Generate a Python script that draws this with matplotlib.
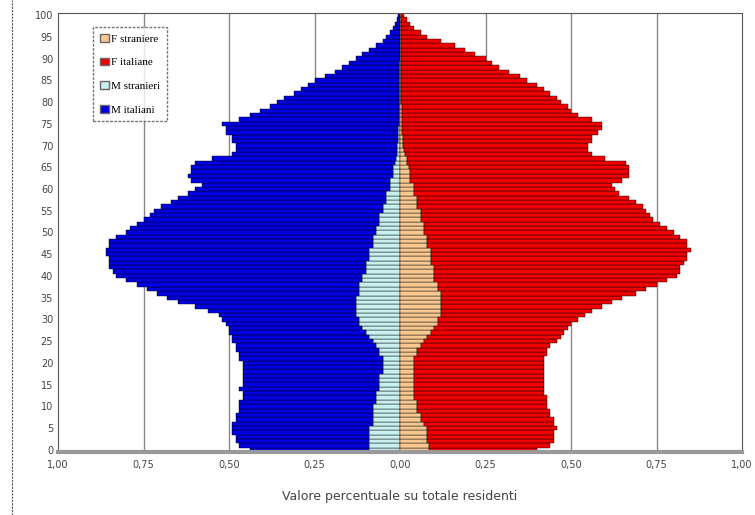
import numpy as np
import matplotlib
matplotlib.use('Agg')
import matplotlib.pyplot as plt
from matplotlib.patches import Patch

# eta' 0..100
eta = np.arange(101)

# maschi: totale (stranieri + italiani) e stranieri, % su totale residenti
m_totale = [.44,.47,.48,.48,.49,.49,.49,.48,.48,.47,
            .47,.47,.46,.46,.47,.46,.46,.46,.46,.46,
            .46,.47,.47,.48,.48,.49,.49,.50,.50,.51,
            .52,.53,.56,.60,.65,.68,.71,.74,.77,.80,
            .83,.84,.85,.85,.85,.86,.86,.85,.85,.83,
            .80,.79,.77,.75,.73,.72,.70,.67,.65,.62,
            .60,.58,.61,.62,.61,.61,.60,.55,.49,.48,
            .48,.49,.49,.51,.51,.52,.47,.44,.41,.38,
            .36,.34,.31,.29,.27,.25,.22,.19,.17,.15,
            .13,.11,.09,.07,.05,.04,.03,.02,.015,.01,
            .006]
m_stranieri = [.09,.09,.09,.09,.09,.09,.08,.08,.08,.08,
               .08,.07,.07,.07,.06,.06,.06,.06,.05,.05,
               .05,.05,.06,.06,.07,.08,.09,.10,.11,.12,
               .12,.13,.13,.13,.13,.13,.12,.12,.12,.11,
               .11,.10,.10,.10,.09,.09,.09,.08,.08,.08,
               .07,.07,.06,.06,.06,.05,.05,.04,.04,.04,
               .03,.03,.03,.02,.02,.02,.015,.012,.01,.01,
               .008,.007,.006,.005,.005,.004,.004,.003,.003,.003,
               .002,.002,.002,.002,.002,.002,.002,.002,.002,.002,
               .001,.001,.001,.001,.001,.001,.001,.001,.001,.001,
               .001]

# femmine
f_totale = [.40,.44,.45,.45,.45,.46,.45,.45,.44,.44,
            .43,.43,.43,.42,.42,.42,.42,.42,.42,.42,
            .42,.42,.43,.43,.44,.46,.47,.48,.49,.50,
            .52,.54,.56,.59,.62,.65,.69,.72,.75,.78,
            .81,.82,.82,.83,.84,.84,.85,.84,.84,.82,
            .80,.78,.76,.74,.73,.72,.71,.69,.67,.64,
            .63,.62,.65,.67,.67,.67,.66,.60,.56,.55,
            .55,.56,.56,.58,.59,.59,.56,.52,.50,.49,
            .47,.46,.44,.42,.40,.37,.35,.32,.29,.27,
            .25,.22,.19,.16,.12,.08,.06,.04,.03,.02,
            .012]
f_straniere = [.085,.085,.08,.08,.08,.08,.07,.06,.06,.05,
               .05,.05,.04,.04,.04,.04,.04,.04,.04,.04,
               .04,.04,.05,.05,.06,.07,.08,.09,.10,.11,
               .11,.12,.12,.12,.12,.12,.12,.11,.11,.10,
               .10,.10,.10,.09,.09,.09,.09,.08,.08,.08,
               .07,.07,.07,.06,.06,.06,.05,.05,.05,.04,
               .04,.04,.03,.03,.03,.025,.02,.02,.015,.012,
               .01,.009,.008,.007,.006,.006,.005,.005,.005,.005,
               .004,.004,.004,.004,.004,.004,.004,.004,.004,.004,
               .002,.002,.002,.002,.002,.002,.002,.002,.002,.002,
               .002]

m_str = np.array(m_stranieri)
m_ita = np.array(m_totale) - m_str
f_str = np.array(f_straniere)
f_ita = np.array(f_totale) - f_str

fig = plt.figure(figsize=(7.55, 5.15), dpi=100)
ax = fig.add_axes([58/755, 1-452/515, 684/755, 439/515])

h = 1.0
ec = dict(edgecolor='black', linewidth=0.3)
ax.barh(eta, -m_str, height=h, color='#c8f0f0', **ec)
ax.barh(eta, -m_ita, left=-m_str, height=h, color='#0000e0', **ec)
ax.barh(eta, f_str, height=h, color='#f8c890', **ec)
ax.barh(eta, f_ita, left=f_str, height=h, color='#f00000', **ec)

ax.set_xlim(-1, 1)
ax.set_ylim(-0.5, 100.5)
xt = [-1, -0.75, -0.5, -0.25, 0, 0.25, 0.5, 0.75, 1]
ax.set_xticks(xt)
ax.set_xticklabels([('%.2f' % abs(v)).replace('.', ',') for v in xt], fontsize=7, color='#444444')
ax.set_yticks(range(0, 101, 5))
ax.tick_params(axis='y', labelsize=7, labelcolor='#444444', length=0)
ax.tick_params(axis='x', length=0, pad=6)
for v in [-0.75, -0.5, -0.25, 0.25, 0.5, 0.75]:
    ax.axvline(v, color='#888888', lw=1, zorder=0)
ax.axvline(0, color='#555555', lw=0.8, zorder=0)

for s in ['top', 'right', 'left']:
    ax.spines[s].set_linestyle((0, (2, 1)))
    ax.spines[s].set_color('#555555')
    ax.spines[s].set_linewidth(0.8)
ax.spines['bottom'].set_color('#999999')
ax.spines['bottom'].set_linewidth(3)

ax.set_xlabel('Valore percentuale su totale residenti', fontsize=9, color='#444444', labelpad=14)

handles = [Patch(facecolor='#f8c890', edgecolor='#666666', label='F straniere'),
           Patch(facecolor='#f00000', edgecolor='#666666', label='F italiane'),
           Patch(facecolor='#c8f0f0', edgecolor='#666666', label='M stranieri'),
           Patch(facecolor='#0000e0', edgecolor='#666666', label='M italiani')]
leg = ax.legend(handles=handles, loc='upper left', bbox_to_anchor=(0.043, 0.98),
                prop={'family': 'Liberation Serif', 'size': 8}, fancybox=False,
                edgecolor='#555555', labelspacing=1.25, handlelength=0.8,
                handletextpad=0.2, borderpad=0.6)
leg.get_frame().set_linestyle((0, (2, 1)))

# linea tratteggiata a sinistra
fig.add_artist(plt.Line2D([12/755, 12/755], [0, 1], transform=fig.transFigure,
                          color='#555555', lw=0.8, linestyle=(0, (2, 1))))

fig.savefig('out.png', dpi=100)
